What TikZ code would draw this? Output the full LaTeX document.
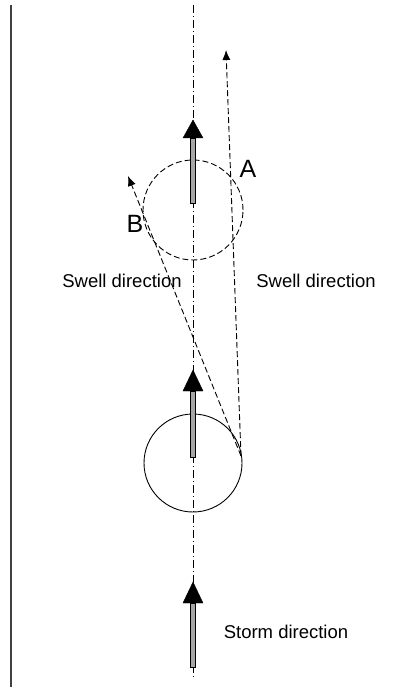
\documentclass[tikz,border=0pt]{standalone}
\usepackage{fontspec}
\setmainfont{Liberation Sans}
\usetikzlibrary{arrows.meta}
\begin{document}
\begin{tikzpicture}[x=1pt,y=-1pt,
  axisline/.style={line width=0.8pt, dash pattern=on 8pt off 3pt on 1pt off 3pt},
  swellpath/.style={line width=0.9pt, dash pattern=on 6pt off 3pt, -{Latex[length=10pt,width=8pt]}},
  shaft/.style={fill=gray!70, draw=black, line width=0.8pt},
  head/.style={fill=black, draw=black, line join=miter},
  lbl/.style={font=\fontsize{18.5}{22}\selectfont, inner sep=0pt},
  letter/.style={font=\fontsize{25}{28}\selectfont, inner sep=0pt}]
\useasboundingbox (0,0) rectangle (412,692);
\fill[white] (0,0) rectangle (412,692);

% left frame line
\draw[line width=1.4pt, black!75] (11,5) -- (11,687);

% centre line of the storm track
\coordinate (axtop) at (193,5);
\coordinate (axbot) at (193,678);
\draw[axisline] (axtop) -- (axbot);

% storm position now (solid) and later (dashed)
\node[circle, draw, line width=0.9pt, minimum size=98pt, inner sep=0pt] (storm) at (193,463) {};
\node[circle, draw, line width=0.9pt, dash pattern=on 6pt off 3pt, minimum size=100pt, inner sep=0pt] (later) at (193,210) {};

% thick track arrows
\newcommand{\trackarrow}[3]{%
  \draw[shaft] (190.3,#3) rectangle (195.7,#2);
  \draw[head] (193,#1) -- (203,#2) -- (183,#2) -- cycle;}
\trackarrow{120}{138}{203}
\trackarrow{370}{391}{457}
\trackarrow{582}{603}{667}

% swell rays from the right side of the storm
\coordinate (src) at (241,456);
\coordinate (tipA) at (226,50);
\coordinate (tipB) at (128,176);
\draw[swellpath] (src) -- (tipA);
\draw[swellpath] (src) -- (tipB);

% labels
\node[letter] (A) at (248,169) {A};
\node[letter] (B) at (135,224) {B};
\node[lbl, anchor=base] (swl) at (122,287) {Swell direction};
\node[lbl, anchor=base] (swr) at (316,287) {Swell direction};
\node[lbl, anchor=base] (std) at (286,638) {Storm direction};
\end{tikzpicture}
\end{document}
